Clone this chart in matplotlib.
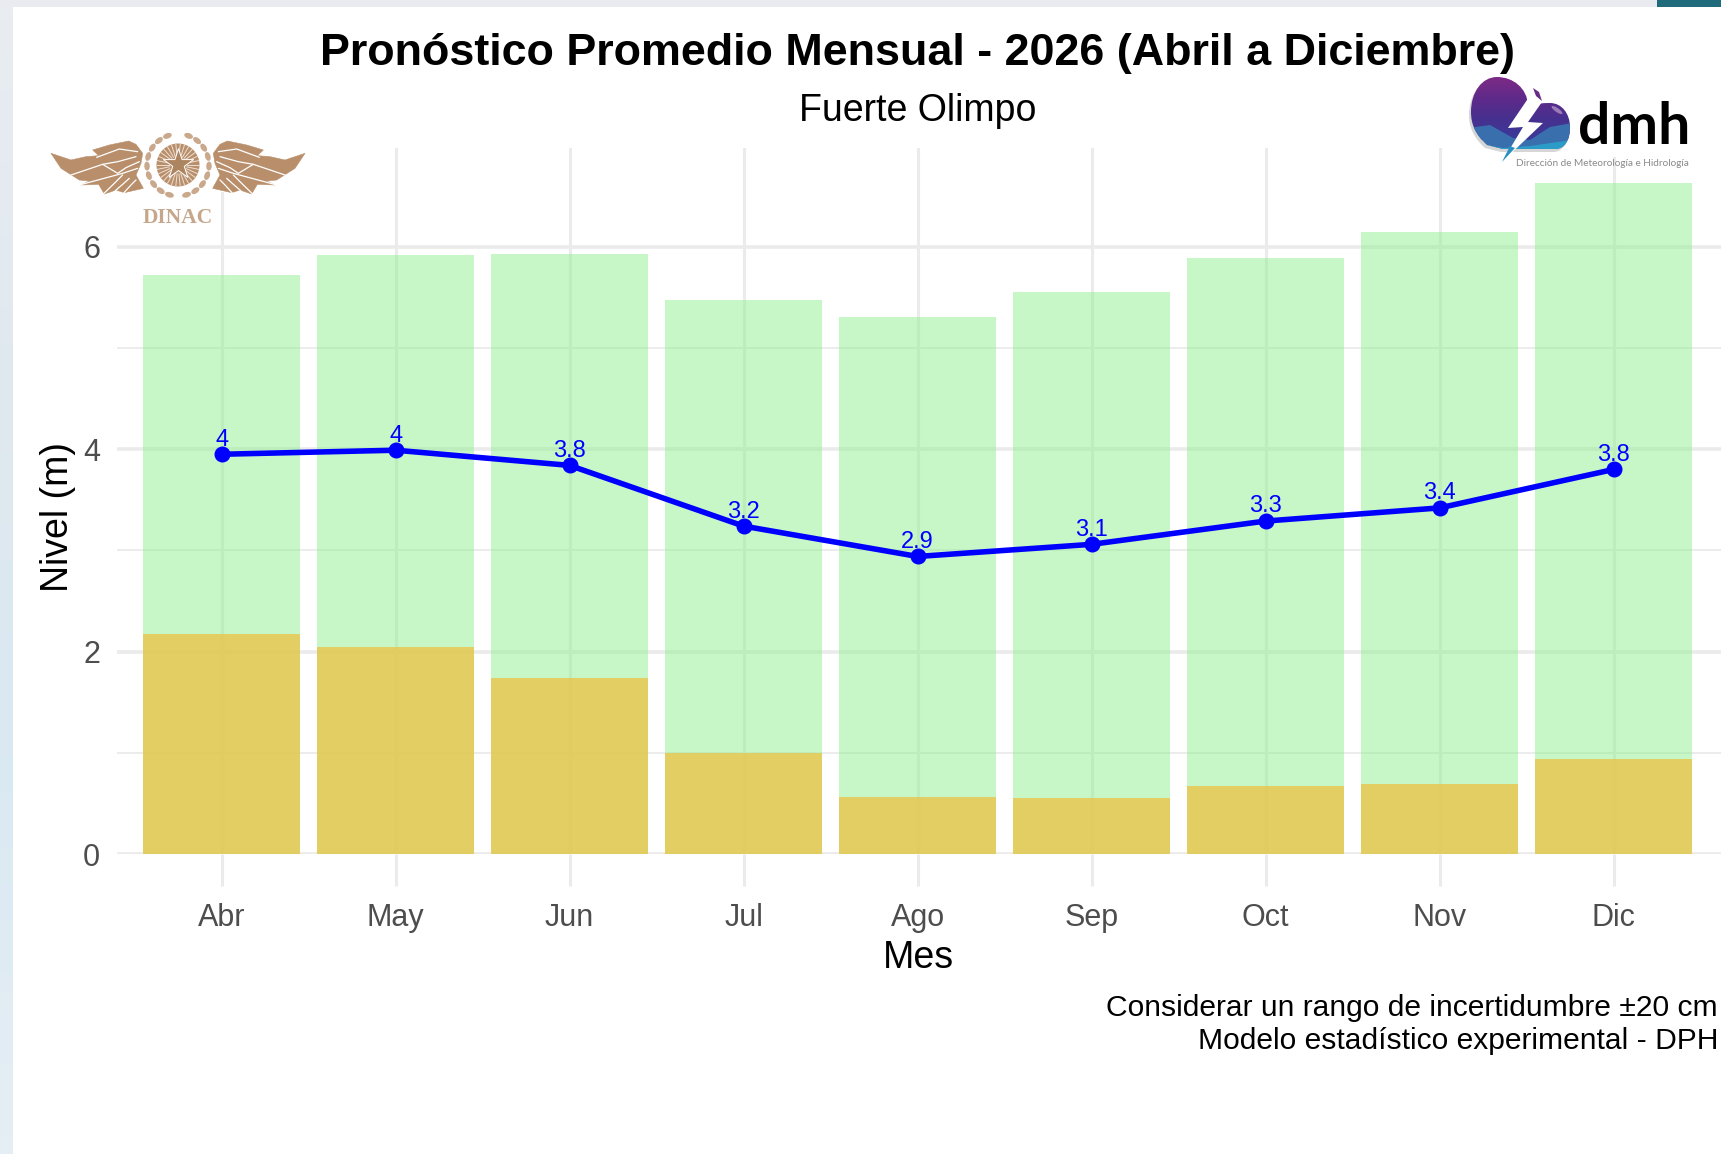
import numpy as np
import matplotlib
matplotlib.use('Agg')
import matplotlib.pyplot as plt
from matplotlib.patches import Polygon, Circle, Rectangle, PathPatch, Ellipse
from matplotlib.path import Path
from matplotlib.colors import LinearSegmentedColormap

plt.rcParams['font.family'] = ['Liberation Sans', 'DejaVu Sans']

# datos
meses = ['Abr', 'May', 'Jun', 'Jul', 'Ago', 'Sep', 'Oct', 'Nov', 'Dic']
maximo = [5.72, 5.92, 5.93, 5.47, 5.31, 5.55, 5.89, 6.15, 6.63]
minimo = [2.17, 2.05, 1.74, 1.00, 0.56, 0.55, 0.67, 0.69, 0.94]
promedio = [3.95, 3.99, 3.84, 3.24, 2.94, 3.06, 3.29, 3.42, 3.80]
etiquetas = ['4', '4', '3.8', '3.2', '2.9', '3.1', '3.3', '3.4', '3.8']

W, H = 1721, 1154
fig = plt.figure(figsize=(W / 100, H / 100), dpi=100, facecolor='white')

# panel principal, posicion en pixeles
izq, der, arriba, abajo = 117, 1721, 148, 854
ax = fig.add_axes([izq / W, 1 - abajo / H, (der - izq) / W, (abajo - arriba) / H])
ax.set_xlim(-0.601, 8.617)
ax.set_ylim(0, (abajo - arriba) / 101.2)
for s in ax.spines.values():
    s.set_visible(False)

x = np.arange(len(meses))
ax.set_axisbelow(True)
ax.set_yticks([0, 2, 4, 6])
ax.set_yticks([1, 3, 5], minor=True)
ax.set_xticks(x)
ax.set_xticklabels(meses)
ax.grid(True, which='major', axis='x', color='#ebebeb', lw=2.2)
ax.grid(True, which='major', axis='y', color='#ebebeb', lw=2.6)
ax.grid(True, which='minor', axis='y', color='#ebebeb', lw=1.3)
ax.tick_params(axis='x', length=23, width=2.2, color='#ebebeb', labelsize=22,
               labelcolor='#4d4d4d', pad=12)
ax.tick_params(axis='y', which='major', length=0, labelsize=22, labelcolor='#4d4d4d', pad=12)
ax.tick_params(axis='y', which='minor', length=0)

ax.bar(x, maximo, width=0.9, color='#90EE90', alpha=0.5, lw=0)
ax.bar(x, minimo, width=0.9, color='#E7C750', alpha=0.85, lw=0)
ax.plot(x, promedio, color='#0000ff', lw=4, marker='o', ms=10.5, solid_capstyle='round')
for xi, yi, et in zip(x, promedio, etiquetas):
    ax.annotate(et, (xi, yi), xytext=(0, 10.5), textcoords='offset points',
                ha='center', va='center', color='#0000ff', fontsize=17)


def tx(px, py, s, **kw):
    fig.text(px / W, 1 - py / H, s, **kw)


tx(918, 54, 'Pronóstico Promedio Mensual - 2026 (Abril a Diciembre)', ha='center', va='center',
   fontsize=32.3, fontweight='bold', color='black')
tx(918, 111, 'Fuerte Olimpo', ha='center', va='center', fontsize=27, color='black')
tx(918, 958, 'Mes', ha='center', va='center', fontsize=27, color='black')
tx(58, 517, 'Nivel (m)', ha='center', va='center', rotation=90, fontsize=27, color='black')
tx(1718, 1008, 'Considerar un rango de incertidumbre ±20 cm', ha='right', va='center', fontsize=21.6, color='black')
tx(1718, 1041, 'Modelo estadístico experimental - DPH', ha='right', va='center', fontsize=21.6, color='black')

# capa en pixeles para fondo de captura y logos
capa = fig.add_axes([0, 0, 1, 1], zorder=5)
capa.set_xlim(0, W)
capa.set_ylim(H, 0)
capa.axis('off')
capa.patch.set_alpha(0)

# bordes de la captura
borde = LinearSegmentedColormap.from_list('borde', ['#e9edf2', '#e0e8ef', '#d9e9f2', '#e6eef5'])
capa.imshow(np.linspace(0, 1, 64)[:, None], cmap=borde, extent=(0, 13, H, 0), aspect='auto', zorder=1)
capa.add_patch(Rectangle((0, 0), W, 7, color='#e9ebf0', lw=0, zorder=2))
capa.add_patch(Rectangle((1657, 0), 64, 7, color='#1f6b7c', lw=0, zorder=3))

# logo DINAC: ala derecha en coordenadas del recorte, luego espejada
capa.add_patch(Rectangle((50, 148), 254, 44, color='white', lw=0, zorder=2))
cafe = '#b98f6b'
cx_dinac = 178
ala = [(130, 85), (150, 58), (172, 48), (230, 60), (280, 75), (262, 92), (300, 95), (345, 105), (405, 85),
       (375, 130), (320, 165), (290, 168), (315, 180), (262, 178), (245, 207), (210, 195), (185, 203),
       (150, 195), (128, 190), (150, 150), (135, 115)]
pliegues = [
    [(145, 80), (200, 72), (268, 97)],
    [(150, 95), (205, 110), (250, 118), (345, 150)],
    [(140, 110), (180, 128), (205, 145), (250, 118)],
    [(145, 130), (190, 145), (320, 180)],
    [(190, 150), (215, 175), (248, 207)],
    [(170, 160), (190, 178), (212, 197)],
    [(150, 165), (165, 180), (187, 204)],
]


def ala_px(pts, signo):
    return [(cx_dinac + signo * (p[0] / 3 - 8), 125 + p[1] / 3) for p in pts]


for signo in (1, -1):
    capa.add_patch(Polygon(ala_px(ala, signo), closed=True, fc=cafe, ec=cafe, lw=0.4, joinstyle='round', zorder=3))
    for pliegue in pliegues:
        pts = np.array(ala_px(pliegue, signo))
        capa.plot(pts[:, 0], pts[:, 1], color='white', lw=0.9, solid_capstyle='round', zorder=3.5)
    # corona de hojas
    for ang in np.radians([-70, -52, -34, -16, 2, 20, 38, 56, 74]):
        capa.add_patch(Ellipse((cx_dinac + signo * 31 * np.cos(ang), 165 + 31 * np.sin(ang)), 5.5, 9,
                               angle=signo * np.degrees(ang), fc='#c9a88c', ec='none', zorder=3))
capa.add_patch(Circle((cx_dinac, 165), 21.5, fc=cafe, ec='none', zorder=3))
for ang in np.radians(np.arange(0, 360, 12)):
    capa.plot([cx_dinac + 9 * np.cos(ang), cx_dinac + 21 * np.cos(ang)],
              [165 + 9 * np.sin(ang), 165 + 21 * np.sin(ang)], color='#ecdfd3', lw=0.7, zorder=3.2)
capa.scatter([cx_dinac], [164], marker='*', s=520, c='#ad8460', edgecolors='white', linewidths=0.7, zorder=4)
capa.text(cx_dinac, 218, 'DINAC', ha='center', va='center', fontsize=15.5, fontweight='bold',
          family=['Liberation Serif'], color='#c5a78d', zorder=4)

# logo dmh
capa.add_patch(Rectangle((1470, 110), 220, 47, color='white', lw=0, zorder=2))
nube_v = [(1487, 145), (1476, 135), (1471, 125), (1471, 112), (1471, 92), (1482, 77), (1497, 77),
          (1513, 77), (1527, 88), (1528, 105), (1535, 104), (1542, 103), (1550, 103), (1562, 103),
          (1570, 114), (1570, 127), (1570, 140), (1565, 149), (1555, 149), (1503, 149), (1487, 145)]
nube_c = [Path.MOVETO] + [Path.CURVE4] * 18 + [Path.LINETO, Path.LINETO]
nube = PathPatch(Path(nube_v, nube_c), fc='none', ec='none', zorder=3)
capa.add_patch(nube)
capa.add_patch(PathPatch(Path([(p[0] - 2, p[1] + 3) for p in nube_v], nube_c), fc='#d6d6d6', ec='none', zorder=2.5))
morado = LinearSegmentedColormap.from_list('nube', ['#7d2a86', '#5f2a8a', '#47308f', '#3a3a9a'])
img = capa.imshow(np.linspace(0, 1, 64)[:, None], cmap=morado, extent=(1469, 1572, 140, 77), aspect='auto', zorder=3)
img.set_clip_path(nube)
ola = Polygon([(1468, 128), (1490, 125), (1513, 138), (1530, 140), (1550, 127), (1572, 123), (1572, 152), (1468, 152)],
              closed=True, fc='#3a6fae', ec='none', zorder=3.1)
capa.add_patch(ola)
ola.set_clip_path(nube)
ola2 = Polygon([(1468, 142), (1503, 148), (1530, 146), (1572, 140), (1572, 152), (1468, 152)],
               closed=True, fc='#2b9cc8', ec='none', zorder=3.2)
capa.add_patch(ola2)
ola2.set_clip_path(nube)
capa.add_patch(Ellipse((1557, 110), 13, 4, angle=35, fc='#9a7cb8', ec='none', zorder=3.3))
rayo = [(1527, 100), (1508, 128), (1523, 127), (1502, 162), (1543, 123), (1528, 122), (1542, 102), (1534, 94)]
capa.add_patch(Polygon(rayo, closed=True, fc='white', ec='none', zorder=4))
capa.add_patch(Polygon([(1502, 162), (1510, 146), (1515, 148)], closed=True, fc='#2b8fc0', ec='none', zorder=5))
capa.add_patch(Polygon([(1533, 88), (1539, 92), (1542, 101), (1536, 96)], closed=True, fc='#6a2a88', ec='none', zorder=5))
capa.set_xlim(0, W)
capa.set_ylim(H, 0)
capa.text(1634, 128, 'dmh', ha='center', va='center', fontsize=41, fontweight='bold', family=['Lato', 'DejaVu Sans'],
          color='black', zorder=4)
capa.text(1602, 163, 'Dirección de Meteorología e Hidrología', ha='center', va='center', fontsize=7.2,
          family=['Lato', 'DejaVu Sans'], color='#8a8a8a', zorder=4)

fig.savefig('out.png', dpi=100, facecolor='white')
